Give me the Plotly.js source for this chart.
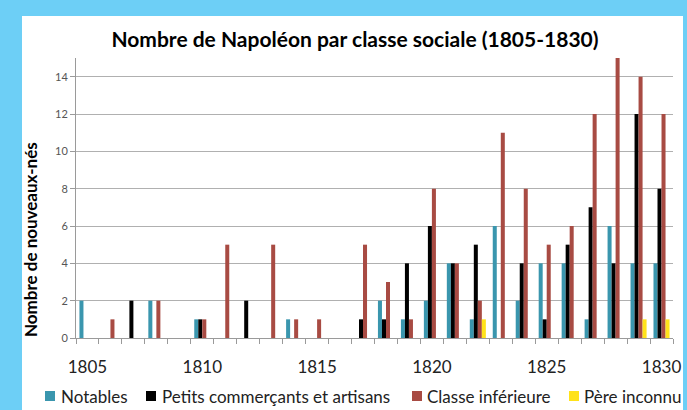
<!DOCTYPE html>
<html>
<head>
<meta charset="utf-8">
<script src="https://cdn.plot.ly/plotly-3.0.1.min.js"></script>
<style>html,body{margin:0;padding:0;background:#fff;}#chart{width:687px;height:410px;}</style>
</head>
<body>
<div id="chart"></div>
<script>
// ---- data ----
var years = [1805,1806,1807,1808,1809,1810,1811,1812,1813,1814,1815,1816,1817,1818,1819,1820,1821,1822,1823,1824,1825,1826,1827,1828,1829,1830];
var notables = [2,0,0,2,0,1,0,0,0,1,0,0,0,2,1,2,4,1,6,2,4,4,1,6,4,4];
var petits   = [0,0,2,0,0,1,0,2,0,0,0,0,1,1,4,6,4,5,0,4,1,5,7,4,12,8];
var classe   = [0,1,0,2,0,1,5,0,5,1,1,0,5,3,1,8,4,2,11,8,5,6,12,15,14,12];
var inconnu  = [0,0,0,0,0,0,0,0,0,0,0,0,0,0,0,0,0,1,0,0,0,0,0,0,1,1];
var seriesNames = ["Notables","Petits commerçants et artisans","Classe inférieure","Père inconnu"];
var labelYears = [1805,1810,1815,1820,1825,1830];
var yTicks = [0,2,4,6,8,10,12,14];
var titleText = "Nombre de Napoléon par classe sociale (1805-1830)";
var yTitleText = "Nombre de nouveaux-nés";

// ---- style ----
var colors = ["#3A96AE","#000000","#A84B43","#FFE21A"];
var W = 687, H = 410;
var M = {l:76, r:14, t:58, b:72};
var PW = W - M.l - M.r, PH = H - M.t - M.b;
function px(x){ return (x - M.l) / PW; }
function py(y){ return (H - M.b - y) / PH; }
var FONT = "Lato, 'Open Sans', sans-serif";

var values = [notables, petits, classe, inconnu];
var traces = values.map(function(v, i){
  return {type:"bar", x:years, y:v, name:seriesNames[i],
          marker:{color:colors[i], line:{width:0}}, showlegend:false, hoverinfo:"x+y+name"};
});

var shapes = [
  // blue frame
  {type:"rect", xref:"paper", yref:"paper", x0:px(0), x1:px(22), y0:py(H+5), y1:py(0), fillcolor:"#6DCFF6", line:{width:0}, layer:"below"},
  {type:"rect", xref:"paper", yref:"paper", x0:px(0), x1:px(W+5), y0:py(16), y1:py(-5), fillcolor:"#6DCFF6", line:{width:0}, layer:"below"},
  {type:"rect", xref:"paper", yref:"paper", x0:px(683), x1:px(W+5), y0:py(H+5), y1:py(0), fillcolor:"#6DCFF6", line:{width:0}, layer:"below"}
];
var annotations = [];
var legSquareX = [45, 146, 412, 569];
var legTextX = [59, 160, 425, 582];
var legY = 396;
seriesNames.forEach(function(n, i){
  shapes.push({type:"rect", xref:"paper", yref:"paper", x0:px(legSquareX[i]), x1:px(legSquareX[i]+10),
               y0:py(legY+5), y1:py(legY-5), fillcolor:colors[i], line:{width:0}});
  annotations.push({xref:"paper", yref:"paper", x:px(legTextX[i]), y:py(legY), xanchor:"left", yanchor:"middle",
                    text:n, showarrow:false, font:{family:FONT, size:17, color:"#222"}});
});
annotations.push({xref:"paper", yref:"paper", x:px(30), y:py(240), xanchor:"center", yanchor:"middle",
                  text:"<b>"+yTitleText+"</b>", textangle:-90, showarrow:false,
                  font:{family:FONT, size:17, color:"#000"}});

var layout = {
  width:W, height:H, margin:M,
  paper_bgcolor:"#fff", plot_bgcolor:"rgba(0,0,0,0)",
  title:{text:"<b>"+titleText+"</b>", x:355/W, xref:"container", xanchor:"center", y:1-40/H, yref:"container", yanchor:"middle",
         font:{family:FONT, size:21, color:"#000"}},
  barmode:"group", bargap:0.3, bargroupgap:0,
  xaxis:{range:[1804.5,1830.5], tickmode:"array", tickvals:labelYears, ticktext:labelYears.map(String),
         ticks:"", showgrid:false, zeroline:false, showline:true, linecolor:"#9a9a9a", linewidth:1,
         ticklabelstandoff:14, tickfont:{family:FONT, size:17, color:"#222"},
         minor:{tickmode:"linear", tick0:1804.5, dtick:1, ticks:"outside", ticklen:5, tickcolor:"#9a9a9a", showgrid:false}},
  yaxis:{range:[0,15], tickmode:"array", tickvals:yTicks, ticktext:yTicks.map(String),
         ticks:"outside", ticklen:5, tickcolor:"#9a9a9a", showline:true, linecolor:"#9a9a9a", linewidth:1,
         showgrid:true, gridcolor:"#b0b0b0", gridwidth:1, zeroline:false,
         tickfont:{family:FONT, size:11, color:"#555"}},
  shapes:shapes, annotations:annotations
};
Plotly.newPlot("chart", traces, layout, {displayModeBar:false, staticPlot:true});
</script>
</body>
</html>
